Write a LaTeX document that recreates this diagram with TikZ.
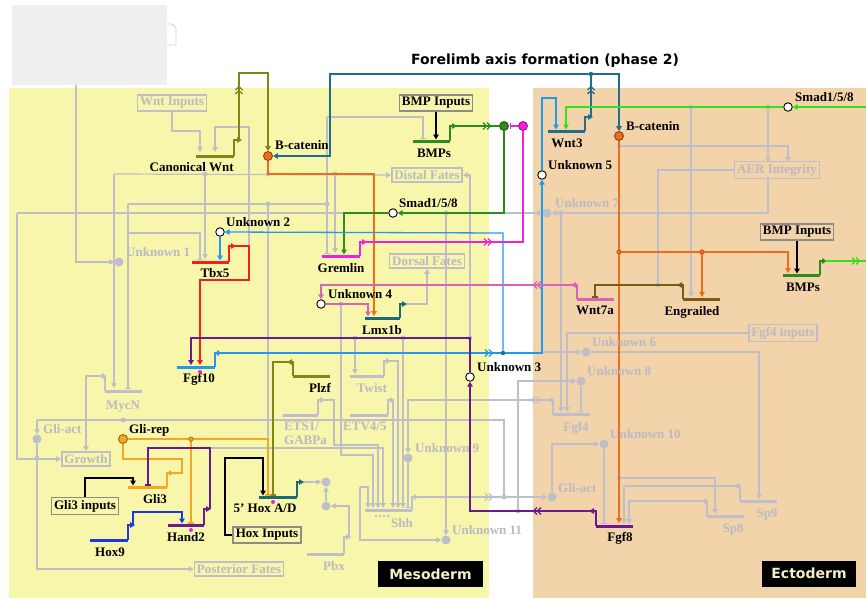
\documentclass[tikz,border=0pt]{standalone}
\usepackage{fontspec}
\setmainfont{Liberation Serif}
\newfontfamily\titlefont{DejaVu Sans}
\usetikzlibrary{arrows.meta}
\definecolor{yellowbg}{HTML}{F7F6AB}
\definecolor{peachbg}{HTML}{F3D3AA}
\definecolor{greybox}{HTML}{EFEFEF}
\definecolor{gline}{HTML}{BEBFC8}
\definecolor{gtext}{HTML}{B9BAC4}
\definecolor{boxgrey}{HTML}{8C8C8C}
\definecolor{olivec}{HTML}{7D8716}
\definecolor{tealc}{HTML}{1F6E8C}
\definecolor{tealb}{HTML}{1A6A78}
\definecolor{orangec}{HTML}{F26B1D}
\definecolor{gliorange}{HTML}{F5A623}
\definecolor{dgreen}{HTML}{2E8B1E}
\definecolor{lgreen}{HTML}{33E01A}
\definecolor{magc}{HTML}{F020E0}
\definecolor{lblue}{HTML}{1E9BF0}
\definecolor{redc}{HTML}{F02020}
\definecolor{purplec}{HTML}{6A1A8C}
\definecolor{brownc}{HTML}{7A5C12}
\definecolor{pinkc}{HTML}{D864B8}
\definecolor{hoxblue}{HTML}{1A3AE0}
\definecolor{cream}{HTML}{F5EFC8}
\newcommand\lblsize{\bfseries\fontsize{13}{15}\selectfont}
\newcommand\genebar[5]{\coordinate (#1L) at (#2,#4); \coordinate (#1R) at (#3,#4); \draw[genebar,#5] (#1L) -- (#1R);}
\pgfdeclarelayer{bg}
\pgfdeclarelayer{wires}
\pgfsetlayers{bg,wires,main}
\tikzset{
  lbl/.style={font=\lblsize, inner sep=0pt},
  glbl/.style={font=\lblsize, inner sep=0pt, text=gtext},
  con/.style={line width=1.3pt},
  gcon/.style={line width=1.2pt, draw=gline},
  genebar/.style={line width=3pt},
  arr/.style={-{Triangle[length=5pt,width=5.5pt]}},
  inh/.style={-{Bar[width=6pt]}},
  ocirc/.style={circle, draw=black, fill=white, line width=0.9pt, minimum size=8.5pt, inner sep=0pt},
  fdot/.style={circle, draw=#1!55!black, fill=#1, line width=0.8pt, minimum size=9pt, inner sep=0pt},
  jdot/.style={circle, fill=#1, minimum size=4.5pt, inner sep=0pt},
  gdot/.style={circle, fill=gline, minimum size=9pt, inner sep=0pt},
  mdot/.style={circle, fill=magc, minimum size=4pt, inner sep=0pt},
  ibox/.style={draw=boxgrey, line width=1.6pt, inner sep=2.5pt, font=\lblsize},
  gbox/.style={draw=gline, line width=1.6pt, inner sep=2.5pt, font=\lblsize, text=gtext},
  region/.style={fill=black, text=cream, font=\titlefont\bfseries\fontsize{14}{16}\selectfont, minimum height=26pt, inner sep=0pt},
  chevR/.pic={\draw[line width=1.3pt,#1] (-5,-3.5)--(-1.5,0)--(-5,3.5) (-1,-3.5)--(2.5,0)--(-1,3.5);},
  chevL/.pic={\draw[line width=1.3pt,#1] (5,-3.5)--(1.5,0)--(5,3.5) (1,-3.5)--(-2.5,0)--(1,3.5);},
  chevU/.pic={\draw[line width=1.3pt,#1] (-3.5,5)--(0,1.5)--(3.5,5) (-3.5,1)--(0,-2.5)--(3.5,1);},
}
\begin{document}
\begin{tikzpicture}[x=1pt,y=-1pt]
\useasboundingbox (0,0) rectangle (866,598);
\begin{pgfonlayer}{bg}
\fill[white] (0,0) rectangle (866,598);
\fill[greybox] (12,5) rectangle (167,85);
\draw[gline!70,line width=0.8pt] (167,24) -- (172,24) -- (176,28) -- (176,45) -- (167,45);
\fill[yellowbg] (9,88) rectangle (489,598);
\fill[peachbg] (533,88) rectangle (866,598);
\end{pgfonlayer}

\node[font=\titlefont\bfseries\fontsize{14}{16}\selectfont, inner sep=0pt] (title) at (545,61) {Forelimb axis formation (phase 2)};

% ---------- grey nodes ----------
\node[gbox] (wntin) at (172,103) {Wnt Inputs};
\node[gbox] (distal) at (427,175) {Distal Fates};
\node[gbox] (dorsal) at (427,261) {Dorsal Fates};
\node[gbox] (aer) at (777,170) {AER Integrity};
\node[gbox] (fgf4in) at (783,333) {Fgf4 inputs};
\node[gbox] (postf) at (239,569) {Posterior Fates};
\node[gbox] (growth) at (86,459) {Growth};

\node[gdot] (u1) at (119,262) {};
\node[gdot] (u7) at (547,213) {};
\node[gdot] (u6) at (586,352) {};
\node[gdot] (u8) at (581,381) {};
\node[gdot] (u10) at (604,444) {};
\node[gdot] (u9) at (408,458) {};
\node[gdot] (u11) at (446,540) {};
\node[gdot] (gam) at (37,439) {};
\node[gdot] (gae) at (552,497) {};
\node[gdot] (hd1) at (326,482) {};
\node[gdot] (hd2) at (326,506) {};

\node[glbl,anchor=base west] (u1l) at (126,256.5) {Unknown 1};
\node[glbl,anchor=base west] (u7l) at (555,207.5) {Unknown 7};
\node[glbl,anchor=base west] (u6l) at (592,346.5) {Unknown 6};
\node[glbl,anchor=base west] (u8l) at (587,375.5) {Unknown 8};
\node[glbl,anchor=base west] (u10l) at (610,438.5) {Unknown 10};
\node[glbl,anchor=base west] (u9l) at (415,452.5) {Unknown 9};
\node[glbl,anchor=base west] (u11l) at (452,534.5) {Unknown 11};
\node[glbl,anchor=base west] (gaml) at (43,433.5) {Gli-act};
\node[glbl,anchor=base west] (gael) at (558,492.5) {Gli-act};
\node[glbl,anchor=base] (mycnl) at (123,409.5) {MycN};
\node[glbl,anchor=base] (twistl) at (372,392.5) {Twist};
\node[glbl,anchor=base west] (etsl) at (284,430.5) {ETS1/};
\node[glbl,anchor=base west] (etsl2) at (284,444.5) {GABPa};
\node[glbl,anchor=base west] (etvl) at (343,430.5) {ETV4/5};
\node[glbl,anchor=base west] (shhl) at (391,527.5) {Shh};
\node[glbl,anchor=base west] (pbxl) at (323,570.5) {Pbx};
\node[glbl,anchor=base] (fgf4l) at (576,431.5) {Fgf4};
\node[glbl,anchor=base] (sp8l) at (733,532.5) {Sp8};
\node[glbl,anchor=base] (sp9l) at (767,517.5) {Sp9};

\genebar{mycn}{105}{142}{391}{gline}
\genebar{twist}{350}{384}{376}{gline}
\genebar{ets}{283}{318}{415}{gline}
\genebar{etv}{350}{388}{415}{gline}
\genebar{shh}{365}{412}{510}{gline}
\genebar{pbx}{307}{344}{554}{gline}
\genebar{fgfF}{553}{590}{414}{gline}
\genebar{spE}{707}{744}{516}{gline}
\genebar{spN}{740}{777}{501}{gline}
\foreach \xx in {376,380,384,388} \fill[gline] (\xx,516) circle (1.4);

% ---------- coloured nodes ----------
\node[fdot=orangec] (bcatM) at (268,156) {};
\node[lbl,anchor=base west] (bcatMl) at (275,149.5) {B-catenin};
\node[fdot=orangec] (bcatE) at (619,136) {};
\node[lbl,anchor=base west] (bcatEl) at (626,130.5) {B-catenin};
\node[jdot=tealc] (wj) at (591,74) {};
\node[jdot=tealc] (bj) at (503,353) {};
\node[ibox] (bmpin) at (436,103) {BMP Inputs};
\node[fdot=dgreen] (gdotM) at (504,126) {};
\node[fdot=magc] (mdotM) at (523,126) {};
\node[ocirc] (smadM) at (393,213) {};
\node[lbl,anchor=base west] (smadMl) at (399,207.5) {Smad1/5/8};
\node[ocirc] (u2) at (220,232) {};
\node[lbl,anchor=base west] (u2l) at (226,226.5) {Unknown 2};
\node[ocirc] (u5) at (542,175) {};
\node[lbl,anchor=base west] (u5l) at (548,169.5) {Unknown 5};
\node[ocirc] (smadE) at (788,107) {};
\node[lbl,anchor=base west] (smadEl) at (795,101.5) {Smad1/5/8};
\coordinate (smadsrc) at (866,107);
\node[ibox] (bmpinE) at (797,232) {BMP Inputs};
\coordinate (bmpout) at (866,261);
\node[ocirc] (u4) at (321,304) {};
\node[lbl,anchor=base west] (u4l) at (328,298.5) {Unknown 4};
\node[ocirc] (u3) at (470,377) {};
\node[lbl,anchor=base west] (u3l) at (477,371.5) {Unknown 3};
\node[ibox] (hoxin) at (267,535) {Hox Inputs};
\node[fdot=gliorange] (glirep) at (123,439) {};
\node[lbl,anchor=base west] (glirepl) at (129,433.5) {Gli-rep};
\node[ibox] (gli3in) at (85,506) {Gli3 inputs};

\genebar{cw}{196}{234}{156}{olivec}
\node[lbl,anchor=base east] (cwl) at (234,171.5) {Canonical Wnt};
\genebar{wnt}{548}{585}{131}{tealc}
\node[lbl,anchor=base] (wntl) at (567,147.5) {Wnt3};
\genebar{bmp}{413}{450}{141}{dgreen}
\node[lbl,anchor=base] (bmpl) at (434,157.5) {BMPs};
\genebar{grem}{322}{360}{256}{magc}
\node[lbl,anchor=base] (greml) at (341,272.5) {Gremlin};
\genebar{tbx}{192}{229}{262}{redc}
\node[lbl,anchor=base] (tbxl) at (215,277.5) {Tbx5};
\genebar{fgften}{177}{215}{367}{lblue}
\node[lbl,anchor=base] (fgftenl) at (199,382.5) {Fgf10};
\node[mdot] (m1) at (200,372) {};
\genebar{bmpE}{783}{820}{275}{dgreen}
\node[lbl,anchor=base] (bmpEl) at (803,291.5) {BMPs};
\genebar{en}{683}{720}{299}{brownc}
\node[lbl,anchor=base] (enl) at (692,315.5) {Engrailed};
\genebar{wsa}{577}{614}{299}{pinkc}
\node[lbl,anchor=base] (wsal) at (595,314.5) {Wnt7a};
\genebar{lmx}{365}{400}{318}{tealb}
\node[lbl,anchor=base] (lmxl) at (382,334.5) {Lmx1b};
\genebar{fgfe}{596}{633}{526}{purplec}
\node[lbl,anchor=base] (fgfel) at (620,541.5) {Fgf8};
\genebar{plzf}{293}{330}{376}{olivec}
\node[lbl,anchor=base] (plzfl) at (320,392.5) {Plzf};
\genebar{hox}{259}{297}{497}{tealb}
\node[lbl,anchor=base] (hoxl) at (265,512.5) {5' Hox A/D};
\node[mdot] (m2) at (273,502) {};
\genebar{gli}{128}{167}{487}{gliorange}
\node[lbl,anchor=base] (glil) at (155,503.5) {Gli3};
\genebar{hand}{168}{204}{525}{purplec}
\node[lbl,anchor=base] (handl) at (186,541.5) {Hand2};
\node[mdot] (m3) at (191,530) {};
\genebar{hoxn}{90}{128}{540}{hoxblue}
\node[lbl,anchor=base] (hoxnl) at (110,556.5) {Hox9};

\node[region, minimum width=105pt] (meso) at (430.5,574) {Mesoderm};
\node[region, minimum width=94pt] (ecto) at (809,573.5) {Ectoderm};

\begin{pgfonlayer}{wires}
% ---------- grey connectors ----------
\draw[gcon,arr] (wntin.south) -- (172,131) -| (200,152);
\draw[gcon,arr] (249,246) -- (249,127) -| (215,152);
\draw[gcon,arr] (76,85) |- (u1.west);
\draw[gcon,arr] (114,174) -- (distal.west);
\draw[gcon,arr] (114,174) -- (114,388);
\draw[gcon,arr] (205,174) -- (205,259);
\draw[gcon,inh] (128,204) -- (128,389);
\draw[gcon] (128,204) -- (327,204);
\draw[gcon,inh] (128,233) -| (200,260);
\draw[gcon,inh] (327,117) -- (327,254);
\draw[gcon,inh] (327,117) -| (423,139);
\draw[gcon,arr] (335,174) -- (335,253);
\draw[gcon] (268,204) -- (268,439);
\draw[gcon] (17,213) -- (344,213);
\draw[gcon,arr] (17,213) |- (growth.west);
\draw[gcon,arr] (470,338) -- (470,175) -- (distal.east);
\draw[gcon,arr] (405,304) -| (dorsal.south);
\draw[gcon,arr] (504,213) -- (u7.west);
\draw[gcon,arr] (768,177) |- (u7.east);
\draw[gcon,arr] (768,107) -- (768,162);
\draw[gcon,arr] (619,146) -| (788,162);
\draw[gcon] (aer.west) -| (658,285);
\draw[gcon,arr] (691,107) -- (691,297);
\draw[gcon,arr] (561,213) -- (561,412);
\draw[gcon,arr] (fgf4in.west) -| (567,412);
\draw[gcon,arr] (542,352) -- (u6.west);
\draw[gcon,arr] (u6.east) -| (759,499);
\draw[gcon,arr] (518,511) |- (u8.west);
\draw[gcon,inh] (u8.south) -- (581,412);
\draw[gcon,arr] (fgfFL) |- (547,400);
\draw[gcon,arr] (549,400) -| (u9.north);
\pic at (534,400) {chevL=gline};
\draw[gcon,inh] (u9.south) -- (408,508);
\draw[gcon,arr] (gae.north) |- (u10.west);
\draw[gcon,inh] (u10.south) -- (604,524);
\draw[gcon,arr] (619,478) -| (715,514);
\draw[gcon,arr] (spNL) |- (734,486);
\draw[gcon,arr] (736,486) -| (624,524);
\draw[gcon,arr] (spEL) |- (701,501);
\draw[gcon,arr] (703,501) -| (629,524);
\draw[gcon,arr] (shhR) |- (419,497);
\draw[gcon,arr] (417,497) -- (gae.west);
\pic at (490,497) {chevR=gline};
\draw[gcon] (37,420) -- (504,420) -- (504,497);
\draw[gcon,arr] (37,420) -- (gam.north);
\draw[gcon,arr] (gam.south) |- (postf.west);
\draw[gcon,arr] (mycnL) |- (99,376);
\draw[gcon,arr] (101,376) -| (growth.north);
\draw[gcon,arr] (446,213) -- (u11.north);
\draw[gcon,arr] (360,487) |- (u11.west);
\draw[gcon,arr] (360,487) -| (368,508);
\draw[gcon,arr] (341,304) -- (341,455) -| (373,508);
\draw[gcon,arr] (etsR) |- (325,400);
\draw[gcon,arr] (323,400) -| (334,445) -| (378,508);
\draw[gcon,arr] (210,448) -| (383,508);
\draw[gcon,arr] (twistR) |- (391,361);
\draw[gcon,arr] (389,361) -| (398,508);
\draw[gcon,arr] (etvR) |- (395,400);
\draw[gcon,arr] (393,400) -- (393,508);
\draw[gcon,arr] (403,338) -- (403,508);
\draw[gcon,arr] (355,338) -- (355,374);
\draw[gcon,arr] (pbxR) |- (351,537);
\draw[gcon,arr] (349,537) |- (hd2.east);
\draw[gcon,arr] (hd2.north) -- (hd1.south);
\draw[gcon,arr] (302,482) -- (hd1.west);
\foreach \p in {(205,174),(268,174),(268,204),(327,204),(335,174),(341,304),(355,338),(403,338),(561,213),(768,107),(691,107),(619,146),(658,285),(518,511),(619,478),(504,497),(446,213),(37,458),(123,420),(470,338)}
  \fill[gline] \p circle (2.4);

% ---------- coloured connectors ----------
% Canonical Wnt
\draw[con,olivec,arr] (cwR) |- (242,140);
\draw[con,olivec,arr] (239,140) -- (239,73) -| (bcatM.north);
\pic at (239,89) {chevU=olivec};
% Wnt3
\draw[con,tealc,arr] (wntR) |- (593,117);
\draw[con,tealc] (591,117) -- (wj);
\draw[con,tealc,arr] (wj) -| (bcatE.north);
\draw[con,tealc,arr] (wj) -- (330,74) |- (bcatM.east);
\pic at (591,89) {chevU=tealc};
% B-catenin
\draw[con,orangec,arr] (bcatM.south) |- (374,174) -- (374,316);
\draw[con,orangec,arr] (bcatE.south) -- (619,523);
\draw[con,orangec,arr] (619,252) -| (788,273);
\draw[con,orangec,arr] (702,252) -- (702,297);
\fill[orangec!80!black] (619,252) circle (2.6) (702,252) circle (2.6);
\fill[orangec] (619,252) circle (1.8) (702,252) circle (1.8);
% BMPs mesoderm
\draw[con,black,arr] (bmpin.south) -- (436,139.5);
\draw[con,dgreen,arr] (bmpR) |- (457,126);
\draw[con,dgreen] (455,126) -- (gdotM.west);
\pic at (488,126) {chevR=dgreen};
\draw[con,magc,inh] (mdotM.west) -- (510,126);
\draw[con,dgreen,arr] (gdotM.south) |- (smadM.east);
\draw[con,dgreen,arr] (smadM.west) -| (344,254.5);
% Gremlin
\draw[con,magc,arr] (gremR) |- (367,242);
\draw[con,magc] (365,242) -| (mdotM.south);
\pic at (489,242) {chevR=magc};
% Tbx5
\draw[con,redc,arr] (tbxR) |- (236,246);
\draw[con,redc,arr] (234,246) -- (249,246) -- (249,280) -| (200,365);
\draw[con,lblue,arr] (u2.south) -- (220,260.5);
% Fgf10
\draw[con,lblue,arr] (fgftenR) |- (222,353);
\draw[con,lblue] (220,353) -- (bj);
\pic at (490,353) {chevR=lblue};
\draw[con,lblue,arr] (bj) -- (503,233) -- (u2.east);
\draw[con,lblue,arr] (bj) -| (u5.south);
\draw[con,lblue,arr] (u5.north) |- (556,98) -- (556,129.5);
% Smad ectoderm
\draw[con,lgreen,arr] (smadsrc) -- (smadE.east);
\draw[con,lgreen,arr] (smadE.west) -| (566,129.5);
% BMPs ectoderm
\draw[con,black,arr] (bmpinE.south) -- (797,273.5);
\draw[con,dgreen,arr] (bmpER) |- (827,261);
\draw[con,lgreen] (825,261) -- (bmpout);
\pic at (857,261) {chevR=lgreen};
% Engrailed
\draw[con,brownc,arr] (enL) |- (677,285);
\draw[con,brownc,inh] (679,285) -| (595,297.5);
% Wnt7a
\draw[con,pinkc,arr] (wsaL) |- (571,285);
\draw[con,pinkc,arr] (573,285) -| (u4.north);
\pic at (536,285) {chevL=pinkc};
\draw[con,pinkc,arr] (u4.east) -| (368,316.5);
% Lmx1b
\draw[con,tealb,arr] (lmxR) |- (407,304);
% Fgf8
\draw[con,purplec,arr] (fgfeL) |- (589,511);
\draw[con,purplec,arr] (591,511) -| (u3.south);
\pic at (536,511) {chevL=purplec};
\draw[con,purplec,arr] (u3.north) |- (191,338) -- (191,365);
% Plzf
\draw[con,olivec,arr] (plzfL) |- (287,362);
\draw[con,olivec,inh] (289,362) -| (273,495.5);
% 5' Hox
\draw[con,tealb,arr] (hoxR) |- (304,482);
\draw[con,black,arr] (hoxin.west) -| (225,458) -| (263,495.5);
% Gli
\draw[con,gliorange,inh] (glirep.east) -| (268,495.5);
\draw[con,gliorange,inh] (191,439) -- (191,523.5);
\fill[gliorange!70!black] (191,439) circle (2.6);
\fill[gliorange] (191,439) circle (1.8);
\draw[con,gliorange,arr] (gliR) |- (174,473);
\draw[con,gliorange] (172,473) -- (182,473) -- (182,459) -| (glirep.south);
\draw[con,black,arr] (gli3in.north) |- (133,478) -- (133,485.5);
% Hand2
\draw[con,purplec,arr] (handR) |- (211,509);
\draw[con,purplec,inh] (210,509) -- (210,448) -| (148,485.5);
% Hox9
\draw[con,hoxblue,arr] (hoxnR) |- (135,525);
\draw[con,hoxblue,arr] (133,525) -- (133,512) -| (182,523.5);
\end{pgfonlayer}
\end{tikzpicture}
\end{document}
